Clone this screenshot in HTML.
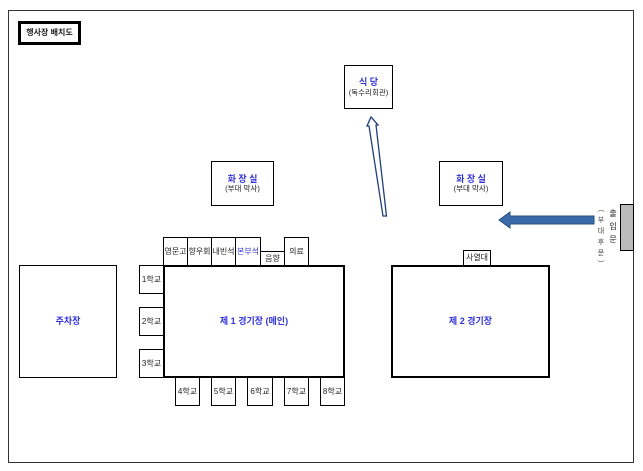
<!DOCTYPE html>
<html><head><meta charset="utf-8"><style>
body{margin:0;width:643px;height:471px;background:#fff;position:relative;overflow:hidden;font-family:"Liberation Sans","Noto Sans CJK KR",sans-serif;}
.b{position:absolute;box-sizing:border-box;border:1px solid #000;background:#fff;display:flex;align-items:center;justify-content:center;font-size:8px;color:#222;text-align:center;line-height:1.2;}
.t{border-width:2px;}
.blue{color:#3333dd;font-weight:bold;}
</style></head><body>
<div class="b" style="left:8px;top:10px;width:626px;height:453px;border-color:#333;"></div>
<div class="b" style="left:18px;top:21px;width:63px;height:24px;border-width:3px;font-weight:bold;font-size:8px;">행사장 배치도</div>

<div class="b" style="left:344px;top:65px;width:49px;height:44px;border-width:1.5px;flex-direction:column"><span class="blue" style="font-size:9px">식 당</span><span style="font-size:7.5px">(독수리회관)</span></div>
<div class="b" style="left:211px;top:161px;width:63px;height:45px;border-width:1.5px;flex-direction:column"><span class="blue" style="font-size:9px">화 장 실</span><span style="font-size:7.5px">(부대 막사)</span></div>
<div class="b" style="left:439px;top:161px;width:64px;height:45px;border-width:1.5px;flex-direction:column"><span class="blue" style="font-size:9px">화 장 실</span><span style="font-size:7.5px">(부대 막사)</span></div>

<svg style="position:absolute;left:0;top:0" width="643" height="471">
<polygon points="383,216 386.5,216 376,125 378,125 371,117 367,126 369,126" fill="#fff" stroke="#1f3f7a" stroke-width="1.3"/>
<polygon points="594,216 594,224 510,224 510,228 499,220 510,212 510,216" fill="#3a6aa8" stroke="#2a4f80" stroke-width="1"/>
</svg>

<div class="b" style="left:620px;top:204px;width:14px;height:47px;background:#bbb;border-width:1.5px"></div>
<div style="position:absolute;left:608px;top:207px;width:10px;font-size:8px;line-height:13px;text-align:center;color:#222">출<br>입<br>문</div>
<div style="position:absolute;left:596px;top:204px;width:10px;font-size:7px;line-height:11px;text-align:center;color:#444">︵<br>부<br>대<br>후<br>문<br>︶</div>

<div class="b" style="left:19px;top:265px;width:98px;height:113px;border-width:1.5px"><span class="blue" style="font-size:9px">주차장</span></div>

<div class="b" style="left:163px;top:237px;width:25px;height:29px">영문고</div>
<div class="b" style="left:187px;top:237px;width:25px;height:29px">향우회</div>
<div class="b" style="left:211px;top:237px;width:25px;height:29px">내빈석</div>
<div class="b blue" style="left:235px;top:237px;width:26px;height:29px;font-weight:normal">본부석</div>
<div class="b" style="left:260px;top:251px;width:25px;height:15px">음향</div>
<div class="b" style="left:284px;top:237px;width:25px;height:29px">의료</div>

<div class="b" style="left:139px;top:265px;width:25px;height:29px">1학교</div>
<div class="b" style="left:139px;top:307px;width:25px;height:29px">2학교</div>
<div class="b" style="left:139px;top:349px;width:25px;height:29px">3학교</div>

<div class="b" style="left:175px;top:377px;width:25px;height:29px">4학교</div>
<div class="b" style="left:211px;top:377px;width:25px;height:29px">5학교</div>
<div class="b" style="left:247px;top:377px;width:26px;height:29px">6학교</div>
<div class="b" style="left:284px;top:377px;width:25px;height:29px">7학교</div>
<div class="b" style="left:320px;top:377px;width:25px;height:29px">8학교</div>

<div class="b t" style="left:163px;top:265px;width:182px;height:113px"><span class="blue" style="font-size:9px">제 1 경기장 (메인)</span></div>

<div class="b" style="left:463px;top:250px;width:28px;height:16px">사열대</div>
<div class="b t" style="left:391px;top:265px;width:159px;height:113px"><span class="blue" style="font-size:9px">제 2 경기장</span></div>
</body></html>
